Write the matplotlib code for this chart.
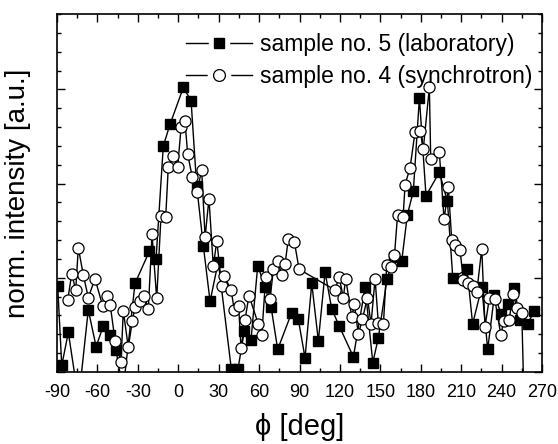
import numpy as np
import matplotlib
matplotlib.use("Agg")
import matplotlib.pyplot as plt
from matplotlib.ticker import MultipleLocator
from matplotlib.lines import Line2D

plt.rcParams['font.family'] = ['Liberation Sans', 'DejaVu Sans']
plt.rcParams['axes.unicode_minus'] = False

# sample no. 5 (laboratory) - filled squares
lab_phi = [-89.5, -86.5, -81.6, -74.0, -66.8, -61.0, -55.6, -50.7, -46.2, -41.0,
           -32.1, -21.5, -16.5, -11.1, -6.1, 3.8, 9.5, 13.7, 18.6, 23.6,
           29.7, 39.4, 44.3, 49.0, 54.0, 59.0, 64.4, 68.9, 73.8, 84.2,
           89.1, 94.1, 99.1, 104.0, 109.0, 113.9, 119.4, 130.0, 138.7, 144.4,
           148.5, 155.0, 160.4, 165.9, 170.1, 174.5, 179.0, 183.9, 193.8, 199.8,
           203.8, 214.4, 218.5, 225.3, 229.7, 234.7, 239.6, 244.6, 249.5, 253.7,
           259.4, 264.3]
lab_int = [0.91, 0.07, 0.42, -0.3, 0.66, 0.27, 0.49, 0.39, 0.23, -0.2,
           0.94, 1.28, 1.20, 2.40, 2.63, 3.02, 2.88, 1.97, 1.34, 0.75,
           1.17, 0.03, 0.03, 0.43, 0.34, 1.13, 0.90, 0.69, 0.24, 0.63,
           0.56, 0.15, 0.94, 0.33, 1.06, 0.67, 0.49, 0.16, 0.90, 0.10,
           0.36, 0.99, 1.22, 1.18, 1.67, 1.92, 2.91, 1.87, 2.12, 1.81,
           1.00, 1.09, 0.51, 0.90, 0.24, 0.82, 0.62, 0.72, 0.89, 0.55,
           0.51, 0.65]

# sample no. 4 (synchrotron) - open circles
syn_phi = [-82.1, -79.1, -76.1, -74.2, -70.5, -66.8, -61.8, -56.1, -53.1, -50.5,
           -46.9, -42.5, -40.8, -37.1, -34.1, -32.1, -28.4, -25.2, -22.2, -19.5,
           -16.0, -12.8, -9.3, -7.4, -3.7, -0.4, 2.1, 5.0, 7.0, 10.4,
           13.7, 17.4, 19.9, 22.8, 26.0, 28.6, 32.3, 34.2, 39.2, 41.6,
           44.8, 46.6, 49.5, 52.5, 59.4, 62.0, 64.9, 68.1, 70.6, 73.8,
           76.8, 79.3, 81.7, 86.2, 89.7, 116.4, 119.4, 122.5, 124.3, 128.8,
           130.7, 133.7, 136.7, 140.4, 143.1, 146.1, 148.5, 152.3, 154.8, 158.0,
           160.5, 162.8, 166.9, 168.4, 172.1, 175.8, 179.5, 181.9, 186.4, 187.4,
           193.8, 197.3, 200.5, 203.0, 205.5, 209.2, 211.6, 215.3, 219.1, 221.6,
           225.3, 227.7, 231.0, 235.0, 239.5, 241.5, 245.5, 248.8, 251.3, 255.0,
           257.0]
syn_int = [0.76, 1.04, 0.87, 1.32, 1.03, 0.79, 0.99, 0.70, 0.81, 0.71,
           0.33, 0.11, 0.65, 0.26, 0.54, 0.69, 0.75, 0.81, 0.67, 1.46,
           0.78, 1.66, 1.65, 2.18, 2.29, 2.18, 2.60, 2.66, 2.31, 2.07,
           1.91, 2.14, 1.43, 1.84, 1.12, 1.39, 0.91, 1.02, 0.87, 0.66,
           0.70, 0.25, 0.55, 0.81, 0.51, 0.39, 1.01, 0.77, 1.09, 1.18,
           1.03, 1.15, 1.41, 1.38, 1.09, 0.87, 1.01, 0.79, 0.99, 0.58,
           0.72, 0.40, 0.56, 0.79, 0.51, 0.99, 0.52, 0.51, 1.14, 1.11,
           1.24, 1.67, 1.65, 1.99, 2.17, 2.55, 2.56, 2.37, 3.02, 2.26,
           2.33, 1.62, 1.96, 1.40, 1.35, 1.29, 0.98, 0.94, 0.91, 0.85,
           1.31, 0.48, 0.79, 0.77, 0.39, 0.54, 0.55, 0.83, 0.68, 0.63,
           -0.5]

xticks = [-90, -60, -30, 0, 30, 60, 90, 120, 150, 180, 210, 240, 270]
labels = ['sample no. 5 (laboratory)', 'sample no. 4 (synchrotron)']

fig = plt.figure(figsize=(5.58, 4.44), dpi=100)
ax = fig.add_axes([0.1022, 0.1622, 0.8691, 0.8063])

ax.plot(lab_phi, lab_int, color='black', lw=1.0, marker='s', ms=6.5,
        mfc='black', mec='black')
ax.plot(syn_phi, syn_int, color='black', lw=1.0, marker='o', ms=8,
        mfc='white', mec='black', mew=0.9)

ax.set_xlim(-90, 270)
ax.set_ylim(0, 3.8)
ax.set_xticks(xticks)
ax.xaxis.set_minor_locator(MultipleLocator(15))
ax.yaxis.set_major_locator(MultipleLocator(1))
ax.yaxis.set_minor_locator(MultipleLocator(0.2))
ax.set_yticklabels([])
ax.tick_params(which='both', direction='in', top=True, right=True,
               labelsize=13, width=1, pad=9)
ax.tick_params(which='major', length=6)
ax.tick_params(which='minor', length=3)
for s in ax.spines.values():
    s.set_linewidth(1.2)

ax.set_xlabel('\u03d5 [deg]', fontsize=21, labelpad=8)
ax.set_ylabel('norm. intensity [a.u.]', fontsize=20, labelpad=10)

# legend handles: white halo around the marker leaves a gap in the line
h_lab = (Line2D([], [], color='black', lw=1.0, marker='s', ms=15,
                mfc='white', mec='white'),
         Line2D([], [], ls='none', marker='s', ms=7.5, mfc='black', mec='black'))
h_syn = (Line2D([], [], color='black', lw=1.0, marker='o', ms=16,
                mfc='white', mec='white'),
         Line2D([], [], ls='none', marker='o', ms=8.5, mfc='white',
                mec='black', mew=0.9))
ax.legend([h_lab, h_syn], labels, loc='upper right', frameon=False,
          fontsize=16.5, handlelength=2.9, handletextpad=0.35,
          labelspacing=0.42, borderaxespad=0.42,
          bbox_to_anchor=(1.019, 1.0))

plt.savefig('out.png', dpi=100)
